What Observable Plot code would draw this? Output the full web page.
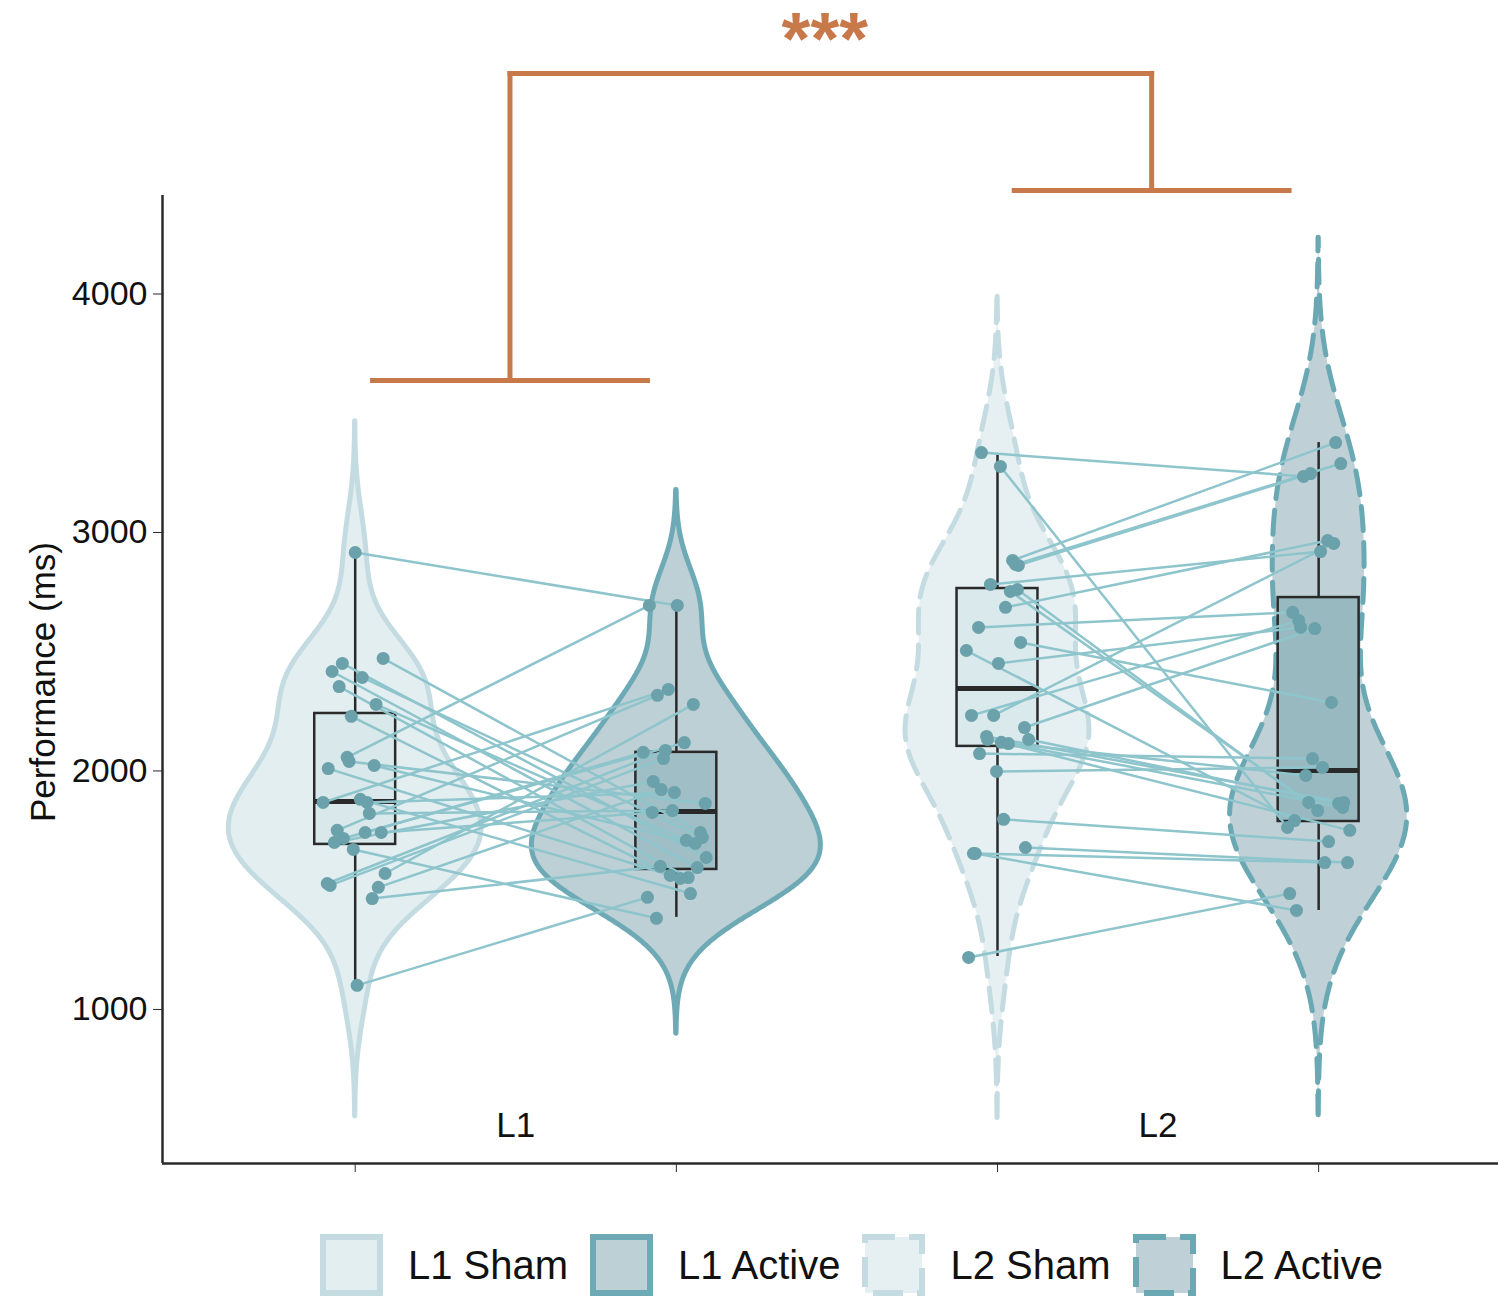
<!DOCTYPE html>
<html>
<head>
<meta charset="utf-8">
<script src="https://cdn.jsdelivr.net/npm/d3@7"></script>
<script src="https://cdn.jsdelivr.net/npm/@observablehq/plot@0.6"></script>
<style>
  body { margin: 0; background: #fff; font-family: "Liberation Sans", Arial, sans-serif; }
  #chart svg { display: block; }
  #legend { display: flex; align-items: flex-start; height: 96px; padding-left: 320px; padding-top: 34px; box-sizing: border-box; }
  .item { display: flex; align-items: center; }
  .item svg { display: block; margin-right: 25px; }
  .item span { font-size: 40px; color: #111; margin-right: 22px; line-height: 62px; }
</style>
</head>
<body>
<div id="chart"></div>
<div id="legend"></div>
<script>
// ---------- data ----------
const groups = ["L1 Sham", "L1 Active", "L2 Sham", "L2 Active"];
const groupPos = [1, 2, 3, 4];
const languages = ["L1", "L2"];
const yTicks = [1000, 2000, 3000, 4000];
const yLabel = "Performance (ms)";

// paired per-subject values (ms) and horizontal jitter (category units)
const l1Sham = [2916,2472,2451,2417,2392,2354,2279,2229,2057,2040,2010,2023,1868,1881,1868,1822,1751,1742,1742,1717,1700,1671,1570,1528,1520,1512,1465,1101];
const l1ShamJitter = [0,.087,-.040,-.072,.022,-.050,.065,-.012,-.025,-.019,-.084,.059,-.100,.016,.037,.044,-.056,.031,.081,-.037,-.065,-.006,.093,-.087,-.078,.072,.053,.006];
const l1Active = [2694,1742,1637,1595,1721,1553,1709,1562,2694,1864,1549,1696,2342,1486,1910,1834,2317,2078,1826,2119,1956,1382,2279,2086,2052,1922,1600,1470];
const l1ActiveJitter = [.003,.075,.093,.065,.081,.037,.031,-.019,-.084,.090,.012,.059,-.025,.044,-.006,-.012,-.059,-.103,-.075,.025,-.072,-.062,.053,-.034,-.040,-.047,-.050,-.090];
const l2Sham = [3335,3277,2883,2866,2862,2782,2753,2761,2686,2602,2539,2505,2451,2233,2233,2182,2145,2132,2132,2115,2073,1998,1797,1679,1654,1654,1218,2120];
const l2ShamJitter = [-.050,.009,.047,.056,.065,-.022,.040,.062,.025,-.059,.072,-.097,.003,-.081,-.012,.084,-.034,-.031,.097,.034,-.056,-.003,.019,.087,-.075,-.069,-.090,.012];
const l2Active = [3235,1763,3377,3289,3247,2920,1868,1834,2966,2665,2287,1792,2602,2631,2954,2597,1868,1847,1864,1981,2052,2015,1704,1616,1616,1415,1486,1751];
const l2ActiveJitter = [-.047,-.097,.053,.069,-.025,.006,-.031,-.003,.028,-.081,.040,-.075,-.056,-.062,.047,-.012,.078,.075,.062,-.040,-.019,.012,.031,.090,.019,-.069,-.090,.097];

// boxplot statistics per group
const boxLower  = [1101, 1386, 1222, 1415];
const boxQ1     = [1692, 1587, 2103, 1788];
const boxMedian = [1872, 1830, 2346, 2002];
const boxQ3     = [2241, 2078, 2765, 2727];
const boxUpper  = [2916, 2690, 3323, 3377];

// significance bracket (annotation)
const bracketCenters = [1.482, 3.480];
const bracketBars = [3637, 4434];
const bracketTop = 4925;
const bracketHalf = 0.428;
const sigLabel = "***";

// ---------- styles ----------
const style = {
  "L1 Sham":   {fill: "#e3eef1", stroke: "#c4dce1", box: "#d8e8eb", dash: null},
  "L1 Active": {fill: "#bdd0d5", stroke: "#6eaab6", box: "#a0bec5", dash: null},
  "L2 Sham":   {fill: "#e6f0f2", stroke: "#c4dce1", box: "#dae9ec", dash: "24,12"},
  "L2 Active": {fill: "#bfd1d6", stroke: "#6aa8b4", box: "#98b9c0", dash: "24,12"}
};
const accent = "#c8794a";
const pointColor = "#6ba1aa";
const lineColor = "#8ec5cc";
const ink = "#2a2a2a";

// ---------- derived tables ----------
const series = [l1Sham, l1Active, l2Sham, l2Active];
const jitters = [l1ShamJitter, l1ActiveJitter, l2ShamJitter, l2ActiveJitter];

// violin densities (gaussian KDE, nrd0 bandwidth, untrimmed, area scaling)
const violin = [];
groups.forEach((g, gi) => {
  const s = series[gi].slice().sort(d3.ascending);
  const n = s.length;
  const bw = 0.9 * Math.min(d3.deviation(s), (d3.quantile(s, .75) - d3.quantile(s, .25)) / 1.34) * Math.pow(n, -0.2);
  const lo = s[0] - 3 * bw, hi = s[n - 1] + 3 * bw;
  for (let k = 0; k < 512; k++) {
    const y = lo + (hi - lo) * k / 511;
    let d = 0;
    for (const v of s) { const u = (y - v) / bw; d += Math.exp(-0.5 * u * u); }
    d /= n * bw * Math.sqrt(2 * Math.PI);
    violin.push({group: g, pos: groupPos[gi], y, d});
  }
});
const maxD = d3.max(violin, r => r.d);
violin.forEach(r => { const hw = 0.45 * r.d / maxD; r.x1 = r.pos - hw; r.x2 = r.pos + hw; });

const boxes = groups.map((g, i) => ({group: g, pos: groupPos[i], lo: boxLower[i], q1: boxQ1[i], med: boxMedian[i], q3: boxQ3[i], hi: boxUpper[i]}));
const bw2 = 0.126;

const points = [];
groups.forEach((g, gi) => series[gi].forEach((v, i) => points.push({group: g, x: groupPos[gi] + jitters[gi][i], y: v})));

const links = [];
[[0, 1], [2, 3]].forEach(([a, b]) => series[a].forEach((v, i) => links.push({
  x1: groupPos[a] + jitters[a][i], y1: v, x2: groupPos[b] + jitters[b][i], y2: series[b][i]
})));

const langLabels = languages.map((l, i) => ({lang: l, x: (groupPos[2 * i] + groupPos[2 * i + 1]) / 2}));

const bracketSegs = [];
bracketCenters.forEach((c, i) => {
  bracketSegs.push({x1: c - bracketHalf, y1: bracketBars[i], x2: c + bracketHalf, y2: bracketBars[i]});
  bracketSegs.push({x1: c, y1: bracketBars[i], x2: c, y2: bracketTop});
});
bracketSegs.push({x1: bracketCenters[0], y1: bracketTop, x2: bracketCenters[1], y2: bracketTop});
const sig = [{x: d3.mean(bracketCenters), y: bracketTop, label: sigLabel}];

// ---------- marks ----------
const yDomain = [354, 4413];
const xDomain = [0.4, 4.56];
const marks = [];
groups.forEach(g => {
  const st = style[g];
  marks.push(Plot.areaX(violin.filter(r => r.group === g), {
    y: "y", x1: "x1", x2: "x2", fill: st.fill, stroke: st.stroke, strokeWidth: 5,
    strokeDasharray: st.dash || undefined, strokeLinejoin: "round"
  }));
});
marks.push(
  Plot.ruleX(boxes, {x: "pos", y1: "lo", y2: "q1", stroke: ink, strokeWidth: 2.5}),
  Plot.ruleX(boxes, {x: "pos", y1: "q3", y2: "hi", stroke: ink, strokeWidth: 2.5}),
  Plot.rect(boxes, {x1: d => d.pos - bw2, x2: d => d.pos + bw2, y1: "q1", y2: "q3",
    fill: d => style[d.group].box, stroke: ink, strokeWidth: 2.5}),
  Plot.ruleY(boxes, {y: "med", x1: d => d.pos - bw2, x2: d => d.pos + bw2, stroke: ink, strokeWidth: 5}),
  Plot.link(links, {x1: "x1", y1: "y1", x2: "x2", y2: "y2", stroke: lineColor, strokeWidth: 2.5}),
  Plot.dot(points, {x: "x", y: "y", r: 6.5, fill: pointColor, stroke: "none"}),
  Plot.text(langLabels, {x: "x", frameAnchor: "bottom", dy: -27, text: "lang", fontSize: 35, fill: "#111"}),
  Plot.link(bracketSegs, {x1: "x1", y1: "y1", x2: "x2", y2: "y2", stroke: accent, strokeWidth: 5, strokeLinecap: "square"}),
  Plot.text(sig, {x: "x", y: "y", text: "label", fill: accent, fontSize: 74, fontWeight: "bold", lineAnchor: "bottom", dy: -9, dx: -6, letterSpacing: 6}),
  Plot.axisY({ticks: yTicks, tickSize: 9, tickPadding: 6, fontSize: 34, label: null, stroke: ink, color: "#111", tickFormat: d3.format("d")}),
  Plot.axisX({ticks: groupPos, tickSize: 9, tickFormat: () => "", label: null, stroke: ink}),
  Plot.ruleY([yDomain[0]], {stroke: ink, strokeWidth: 2.5}),
  Plot.ruleX([xDomain[0]], {stroke: ink, strokeWidth: 2.5})
);

const chart = Plot.plot({
  width: 1498, height: 1200,
  marginLeft: 162, marginRight: 0, marginTop: 195, marginBottom: 37,
  x: {type: "linear", domain: xDomain, axis: null},
  y: {domain: yDomain, axis: null},
  style: {fontFamily: '"Liberation Sans", Arial, sans-serif', fontSize: "34px", color: "#111", background: "#fff", overflow: "visible"},
  marks
});
document.getElementById("chart").append(chart);

// y-axis title
d3.select(chart).append("text")
  .attr("transform", "translate(42,682) rotate(-90)")
  .attr("text-anchor", "middle")
  .attr("dominant-baseline", "central")
  .attr("font-size", 35)
  .attr("fill", "#111")
  .text(yLabel);

// ---------- legend ----------
const legend = d3.select("#legend");
groups.forEach(g => {
  const st = style[g];
  const item = legend.append("div").attr("class", "item");
  const sw = item.append("svg").attr("width", 63).attr("height", 62);
  sw.append("rect").attr("x", 3).attr("y", 3).attr("width", 57).attr("height", 56)
    .attr("fill", st.fill).attr("stroke", st.stroke).attr("stroke-width", 6)
    .attr("stroke-dasharray", st.dash ? "30,14" : null);
  item.append("span").text(g);
});
</script>
</body>
</html>
